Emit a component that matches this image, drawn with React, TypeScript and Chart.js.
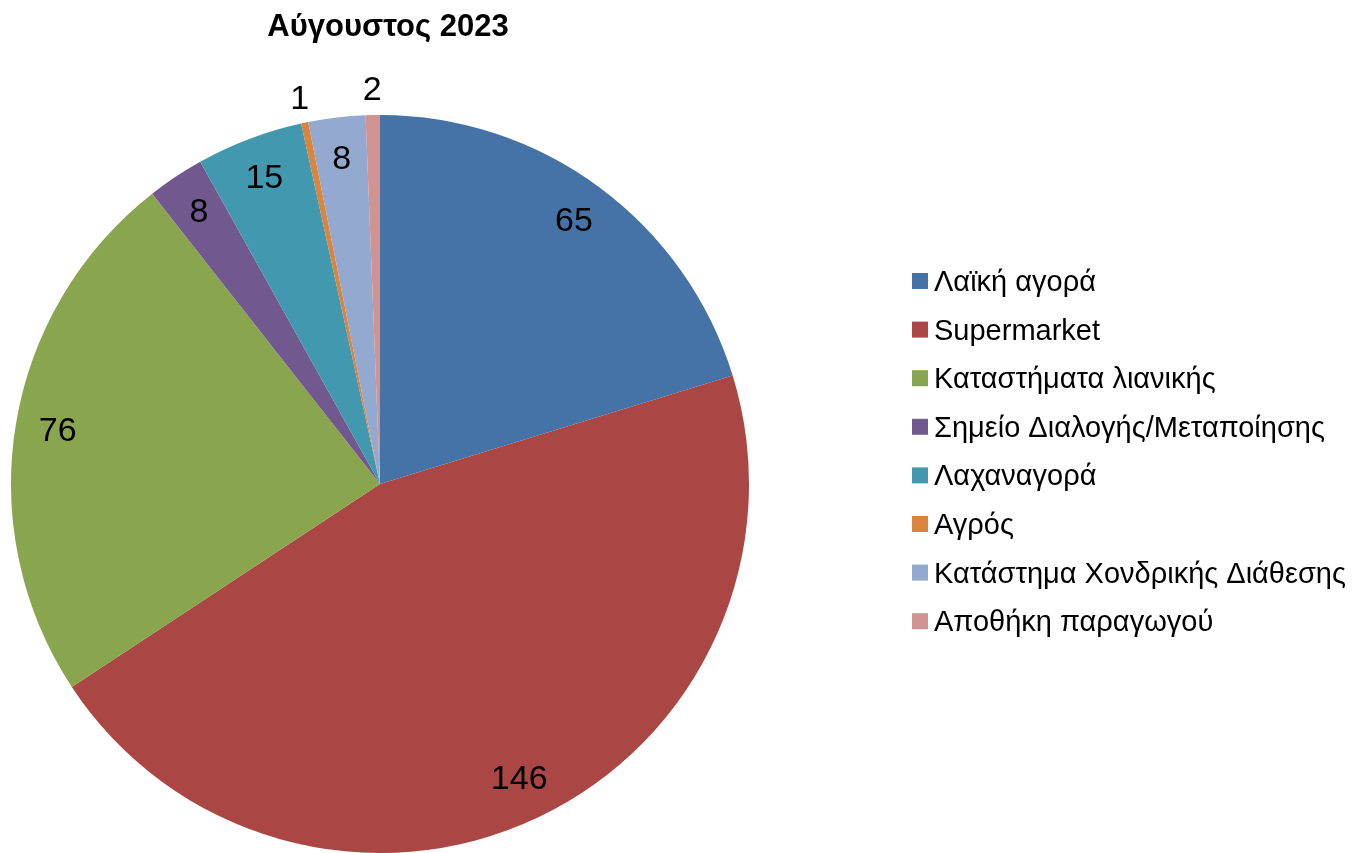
import React, { useEffect, useRef } from "react";
import { Chart, registerables } from "chart.js";

Chart.register(...registerables);

const chartTitle = "Αύγουστος 2023";
const categories = [
  "Λαϊκή αγορά",
  "Supermarket",
  "Καταστήματα λιανικής",
  "Σημείο Διαλογής/Μεταποίησης",
  "Λαχαναγορά",
  "Αγρός",
  "Κατάστημα Χονδρικής Διάθεσης",
  "Αποθήκη παραγωγού",
];
const values = [65, 146, 76, 8, 15, 1, 8, 2];
const colors = [
  "#4572A7",
  "#AA4643",
  "#89A54E",
  "#71588F",
  "#4198AF",
  "#DB843D",
  "#93A9CF",
  "#D19392",
];

const FONT = '"Liberation Sans", Arial, Helvetica, sans-serif';

const sliceLabels = {
  id: "sliceLabels",
  afterDatasetsDraw(chart: any) {
    const ctx = chart.ctx;
    const meta = chart.getDatasetMeta(0);
    const total = values.reduce((a, b) => a + b, 0);
    ctx.save();
    ctx.font = `34px ${FONT}`;
    ctx.fillStyle = "#000";
    ctx.textAlign = "center";
    ctx.textBaseline = "middle";
    meta.data.forEach((arc: any, i: number) => {
      const { x, y, startAngle, endAngle, outerRadius } = arc.getProps(
        ["x", "y", "startAngle", "endAngle", "outerRadius"],
        true
      );
      const mid = (startAngle + endAngle) / 2;
      const share = values[i] / total;
      const r = share < 0.01 ? outerRadius + 24 : outerRadius * 0.885;
      ctx.fillText(String(values[i]), x + Math.cos(mid) * r, y + Math.sin(mid) * r);
    });
    ctx.restore();
  },
};

const titleAndLegend = {
  id: "titleAndLegend",
  afterDraw(chart: any) {
    const ctx = chart.ctx;
    const area = chart.chartArea;
    ctx.save();
    // title
    ctx.font = `bold 31px ${FONT}`;
    ctx.fillStyle = "#000";
    ctx.textAlign = "center";
    ctx.textBaseline = "alphabetic";
    ctx.fillText(chartTitle, (area.left + area.right) / 2 + 8, 36);
    // legend
    const x0 = area.right + 163;
    const y0 = area.top + 166;
    const step = 48.6;
    ctx.font = `29px ${FONT}`;
    ctx.textAlign = "left";
    ctx.textBaseline = "middle";
    categories.forEach((label, i) => {
      const cy = y0 + i * step;
      ctx.fillStyle = colors[i];
      ctx.fillRect(x0, cy - 8, 16, 16);
      ctx.fillStyle = "#000";
      ctx.fillText(label, x0 + 22, cy + 2);
    });
    ctx.restore();
  },
};

export default function App() {
  const canvasRef = useRef<HTMLCanvasElement | null>(null);

  useEffect(() => {
    if (!canvasRef.current) return;
    const chart = new Chart(canvasRef.current, {
      type: "pie",
      data: {
        labels: categories,
        datasets: [
          {
            data: values,
            backgroundColor: colors,
            borderWidth: 0,
          },
        ],
      },
      options: {
        animation: false,
        responsive: true,
        maintainAspectRatio: false,
        layout: { padding: { left: 11, right: 621, top: 115, bottom: 0 } },
        plugins: {
          legend: { display: false },
          tooltip: { enabled: false },
          title: { display: false },
        },
      },
      plugins: [sliceLabels, titleAndLegend],
    });
    return () => chart.destroy();
  }, []);

  return (
    <div
      style={{
        position: "fixed",
        left: 0,
        top: 0,
        width: 1370,
        height: 853,
        background: "#fff",
      }}
    >
      <canvas ref={canvasRef} />
    </div>
  );
}
